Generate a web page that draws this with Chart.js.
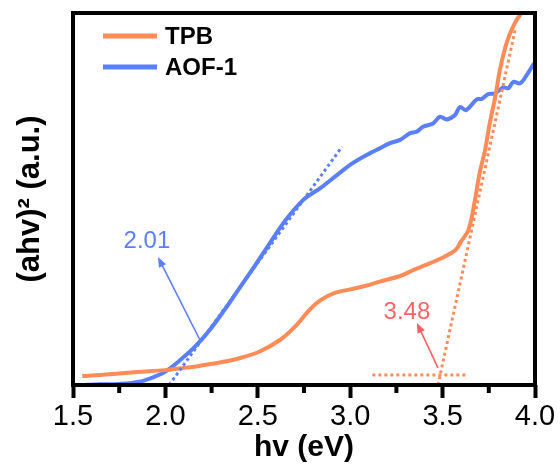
<!DOCTYPE html>
<html>
<head>
<meta charset="utf-8">
<script src="https://cdn.jsdelivr.net/npm/chart.js@4.4.1/dist/chart.umd.min.js"></script>
<style>
  html, body { margin: 0; padding: 0; background: #fff; }
  #wrap { width: 560px; height: 468px; }
</style>
</head>
<body>
<div id="wrap"><canvas id="tauc" width="560" height="468"></canvas></div>
<script>
// photon energy (eV) and (ahv)^2 in arbitrary units
const tpbX = [1.55, 1.65, 1.75, 1.85, 2.0, 2.1, 2.19, 2.3, 2.4, 2.51, 2.62, 2.7, 2.78, 2.84, 2.92, 3.0, 3.08, 3.16, 3.27, 3.35, 3.43, 3.51, 3.57, 3.6, 3.64, 3.675, 3.7, 3.73, 3.755, 3.785, 3.81, 3.84, 3.865, 3.9, 3.93, 3.95];
const tpbY = [2.4, 2.7, 3.1, 3.5, 4.0, 4.6, 5.2, 6.1, 7.2, 9.0, 12.1, 15.6, 20.2, 22.8, 24.8, 25.7, 26.6, 27.8, 29.3, 31.1, 32.7, 34.5, 36.3, 38.6, 41.7, 49.7, 56.9, 63.2, 70.3, 77.5, 84.7, 90.9, 94.5, 98.1, 100.2, 102];

const aofX = [1.55, 1.65, 1.75, 1.86, 1.94, 2.0, 2.08, 2.16, 2.24, 2.32, 2.4, 2.49, 2.57, 2.65, 2.745, 2.84, 2.93, 3.015, 3.11, 3.16, 3.215, 3.27, 3.324, 3.36, 3.394, 3.448, 3.486, 3.522, 3.567, 3.594, 3.627, 3.685, 3.712, 3.747, 3.784, 3.828, 3.856, 3.883, 3.919, 3.955, 3.995];
const aofY = [0.0, 0.2, 0.3, 0.9, 2.2, 3.6, 6.7, 10.3, 14.8, 20.2, 26.0, 32.5, 38.5, 44.3, 49.7, 53.0, 56.5, 59.7, 62.4, 63.6, 65.0, 65.9, 67.7, 68.1, 69.4, 70.3, 72.1, 71.4, 72.6, 74.7, 73.9, 76.8, 76.9, 78.2, 78.4, 80.0, 79.8, 81.5, 81.1, 83.3, 86.5];

// linear fits used to get the band gaps
const aofFitX = [2.02, 2.955];
const aofFitY = [0, 64];
const tpbFitX = [3.475, 3.895];
const tpbFitY = [0, 96];
const baseX = [3.12, 3.63];
const baseY = [2.7, 2.7];

// band gap labels: [label, arrow tail x, y, arrow head x, y, text x, y]
const gapAOF = ['2.01', 2.187, 12.1, 1.96, 34.4, 1.9, 38.7];
const gapTPB = ['3.48', 3.475, 4.6, 3.361, 16.7, 3.307, 19.6];

const xTicks = [1.5, 2.0, 2.5, 3.0, 3.5, 4.0];

const ORANGE = '#ff8c57';
const BLUE = '#5a7ffb';
const FONT = '"Liberation Sans", Arial, sans-serif';

function pts(xs, ys) {
  return xs.map((x, i) => ({ x: x, y: ys[i] }));
}

const extras = {
  id: 'extras',
  afterDatasetsDraw(chart) {
    const ctx = chart.ctx;
    const a = chart.chartArea;
    const sx = chart.scales.x, sy = chart.scales.y;
    ctx.save();

    // arrows and gap values
    [[gapAOF, BLUE, BLUE], [gapTPB, '#ff5e5e', '#ff6464']].forEach(([g, lc, tc]) => {
      const x0 = sx.getPixelForValue(g[1]), y0 = sy.getPixelForValue(g[2]);
      const x1 = sx.getPixelForValue(g[3]), y1 = sy.getPixelForValue(g[4]);
      const ang = Math.atan2(y1 - y0, x1 - x0);
      ctx.strokeStyle = lc;
      ctx.fillStyle = lc;
      ctx.lineWidth = 1.6;
      ctx.beginPath();
      ctx.moveTo(x0, y0);
      ctx.lineTo(x1 - 6 * Math.cos(ang), y1 - 6 * Math.sin(ang));
      ctx.stroke();
      ctx.beginPath();
      ctx.moveTo(x1, y1);
      ctx.lineTo(x1 - 10 * Math.cos(ang) + 4 * Math.sin(ang), y1 - 10 * Math.sin(ang) - 4 * Math.cos(ang));
      ctx.lineTo(x1 - 10 * Math.cos(ang) - 4 * Math.sin(ang), y1 - 10 * Math.sin(ang) + 4 * Math.cos(ang));
      ctx.closePath();
      ctx.fill();
      ctx.fillStyle = tc;
      ctx.font = '24px ' + FONT;
      ctx.textAlign = 'center';
      ctx.textBaseline = 'middle';
      ctx.fillText(g[0], sx.getPixelForValue(g[5]), sy.getPixelForValue(g[6]));
    });

    // frame
    ctx.strokeStyle = '#000';
    ctx.lineWidth = 4;
    ctx.strokeRect(a.left, a.top, a.right - a.left, a.bottom - a.top);

    // minor ticks halfway between the major ones
    for (let i = 0; i < sx.ticks.length - 1; i++) {
      const px = (sx.getPixelForValue(sx.ticks[i].value) + sx.getPixelForValue(sx.ticks[i + 1].value)) / 2;
      ctx.beginPath();
      ctx.moveTo(px, a.bottom);
      ctx.lineTo(px, a.bottom + 8);
      ctx.stroke();
    }

    // legend
    const items = chart.data.datasets.filter(d => d.inLegend);
    items.forEach((d, i) => {
      const y = a.top + 23 + i * 31;
      ctx.strokeStyle = d.borderColor;
      ctx.lineWidth = 5;
      ctx.beginPath();
      ctx.moveTo(a.left + 30, y);
      ctx.lineTo(a.left + 84, y);
      ctx.stroke();
      ctx.fillStyle = '#000';
      ctx.font = 'bold 24px ' + FONT;
      ctx.textAlign = 'left';
      ctx.textBaseline = 'middle';
      ctx.fillText(d.label, a.left + 92, y + 1);
    });
    ctx.restore();
  }
};

const dotted = { borderWidth: 3, borderDash: [3, 3], pointRadius: 0, tension: 0 };

new Chart(document.getElementById('tauc'), {
  type: 'line',
  data: {
    datasets: [
      Object.assign({ label: 'fitAOF', data: pts(aofFitX, aofFitY), borderColor: BLUE }, dotted),
      Object.assign({ label: 'fitTPB', data: pts(tpbFitX, tpbFitY), borderColor: ORANGE }, dotted),
      Object.assign({ label: 'baseTPB', data: pts(baseX, baseY), borderColor: ORANGE }, dotted),
      {
        label: 'TPB', inLegend: true, data: pts(tpbX, tpbY),
        borderColor: ORANGE, borderWidth: 4, pointRadius: 0, tension: 0.35
      },
      {
        label: 'AOF-1', inLegend: true, data: pts(aofX, aofY),
        borderColor: BLUE, borderWidth: 4, pointRadius: 0, tension: 0.35
      }
    ]
  },
  options: {
    responsive: false,
    animation: false,
    layout: { padding: { top: 13, right: 25, left: 0, bottom: 0 } },
    plugins: { legend: { display: false }, tooltip: { enabled: false } },
    scales: {
      x: {
        type: 'linear',
        min: 1.5,
        max: 4.0,
        afterFit: s => { s.height = 83; },
        afterBuildTicks: s => { s.ticks = xTicks.map(v => ({ value: v })); },
        ticks: {
          padding: 2,
          color: '#000',
          font: { family: FONT, size: 29 },
          callback: v => v.toFixed(1),
          maxRotation: 0
        },
        grid: { drawOnChartArea: false, drawTicks: true, tickLength: 13, tickWidth: 4, tickColor: '#000' },
        border: { display: false },
        title: {
          display: true,
          text: 'hv (eV)',
          color: '#000',
          font: { family: FONT, size: 30, weight: 'bold' },
          padding: { top: 0, bottom: 2 }
        }
      },
      y: {
        min: 0,
        max: 100,
        afterFit: s => { s.width = 73; },
        ticks: { display: false },
        grid: { display: false },
        border: { display: false },
        title: {
          display: true,
          text: '(ahv)² (a.u.)',
          color: '#000',
          font: { family: FONT, size: 31, weight: 'bold' },
          padding: { top: 12, bottom: 0 }
        }
      }
    }
  },
  plugins: [extras]
});
</script>
</body>
</html>
